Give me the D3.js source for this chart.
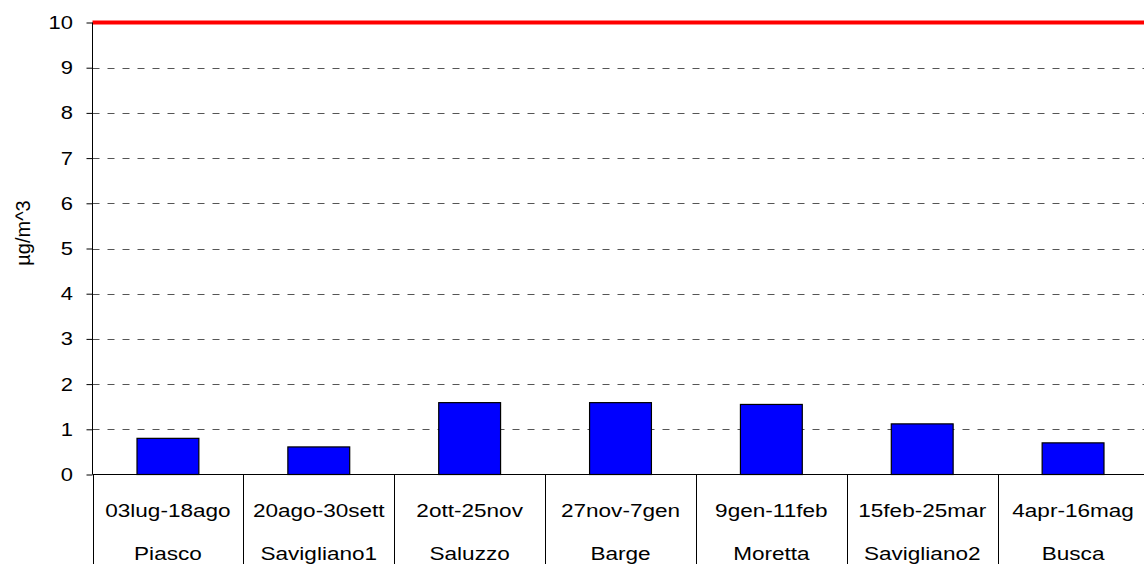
<!DOCTYPE html>
<html><head><meta charset="utf-8">
<script src="https://cdn.jsdelivr.net/npm/d3@7"></script>
<style>body{margin:0;background:#fff}svg{display:block;font-family:"Liberation Sans",Arial,sans-serif}</style>
</head><body>
<svg id="c" width="1144" height="564"></svg>
<script>
const periods = ["03lug-18ago","20ago-30sett","2ott-25nov","27nov-7gen","9gen-11feb","15feb-25mar","4apr-16mag"];
const sites = ["Piasco","Savigliano1","Saluzzo","Barge","Moretta","Savigliano2","Busca"];
const values = [0.80, 0.61, 1.59, 1.59, 1.55, 1.12, 0.70];
const yTicks = [0,1,2,3,4,5,6,7,8,9,10];
const limit = 10;
const yLabel = "µg/m^3";

const svg = d3.select("#c");
const x0 = 92.5, x1 = 1148.5, yTop = 22.5, yBot = 474.5;
const sx = 1.22;
const x = d3.scaleBand().domain(d3.range(periods.length)).range([x0, x1]);
const y = d3.scaleLinear().domain([0, 10]).range([yBot, yTop]);

// gridlines
svg.append("g").selectAll("line").data(yTicks.filter(d => d > 0 && d < 10)).join("line")
  .attr("x1", x0).attr("x2", 1144).attr("y1", d => Math.round(y(d)) + 0.5).attr("y2", d => Math.round(y(d)) + 0.5)
  .attr("stroke", "#555").attr("stroke-dasharray", "7,8").attr("stroke-width", 1);

// bars
const bw = x.step() * 0.41;
svg.append("g").selectAll("rect").data(values).join("rect")
  .attr("x", (d, i) => x(i) + x.step() / 2 - bw / 2)
  .attr("y", d => y(d))
  .attr("width", bw)
  .attr("height", d => yBot - y(d))
  .attr("fill", "#0000ff").attr("stroke", "#000").attr("stroke-width", 1.2);

// limit line
svg.append("line").attr("x1", x0).attr("x2", 1144).attr("y1", y(limit)).attr("y2", y(limit))
  .attr("stroke", "#ff0000").attr("stroke-width", 4);

// y axis
const ya = d3.axisLeft(y).tickValues(yTicks).tickSize(6).tickFormat("");
const gy = svg.append("g").attr("transform", `translate(${x0},0)`).call(ya);
gy.select(".domain").attr("stroke", "#000").attr("d", `M0,${yTop}V${yBot}`);
gy.selectAll(".tick line").attr("stroke", "#000");
svg.append("g").selectAll("text").data(yTicks).join("text")
  .attr("transform", d => `translate(73,${y(d) + 6.5}) scale(${sx},1)`)
  .attr("text-anchor", "end").attr("font-size", 18).text(d => d);

// x axis baseline
svg.append("line").attr("x1", x0).attr("x2", 1144).attr("y1", yBot).attr("y2", yBot).attr("stroke", "#000");

// category separators
svg.append("g").selectAll("line").data(d3.range(periods.length + 1)).join("line")
  .attr("x1", i => Math.round(x0 + i * x.step()) + 0.5).attr("x2", i => Math.round(x0 + i * x.step()) + 0.5)
  .attr("y1", yBot).attr("y2", 564).attr("stroke", "#000");

// labels
svg.append("g").selectAll("text").data(periods).join("text")
  .attr("transform", (d, i) => `translate(${x(i) + x.step() / 2},516.5) scale(${sx},1)`)
  .attr("text-anchor", "middle").attr("font-size", 18.5).text(d => d);
svg.append("g").selectAll("text").data(sites).join("text")
  .attr("transform", (d, i) => `translate(${x(i) + x.step() / 2},560) scale(${sx},1)`)
  .attr("text-anchor", "middle").attr("font-size", 18.5).text(d => d);

svg.append("text").attr("transform", `translate(30,233) rotate(-90)`)
  .attr("text-anchor", "middle").attr("font-size", 20).text(yLabel);
</script>
</body></html>
